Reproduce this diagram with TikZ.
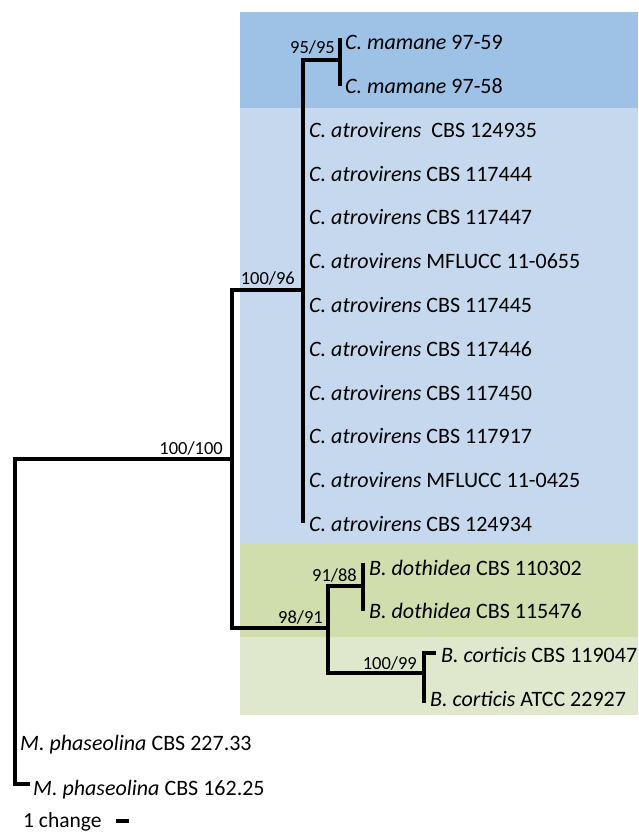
\documentclass[tikz,border=0pt]{standalone}
\usepackage{fontspec}
\setmainfont{Carlito}
\usepackage{tikz}
\usetikzlibrary{positioning}
\usepackage{xcolor}
\definecolor{mamaneblue}{RGB}{157,194,230}
\definecolor{atroblue}{RGB}{197,216,237}
\definecolor{dothgreen}{RGB}{208,222,174}
\definecolor{cortgreen}{RGB}{223,232,204}
\newcommand{\Cma}{\textit{C. mamane}}
\newcommand{\Cat}{\textit{C. atrovirens}}
\newcommand{\Bdo}{\textit{B. dothidea}}
\newcommand{\Bco}{\textit{B. corticis}}
\newcommand{\Mph}{\textit{M. phaseolina}}

\begin{document}
\begin{tikzpicture}[x=1pt, y=-1pt,
    leaf/.style={anchor=west, inner sep=0pt, text height=13.9pt, text depth=0pt,
        font=\fontsize{22}{26}\selectfont},
    boot/.style={anchor=south east, inner sep=1pt, text height=11.7pt, text depth=0pt,
        font=\fontsize{18.5}{22}\selectfont},
    branch/.style={line width=3.3pt, line join=miter, line cap=rect, black}
]
    \useasboundingbox (0,0) rectangle (638,832);

    % clade shading
    \fill[mamaneblue] (240,12) rectangle (638,108);
    \fill[atroblue] (240,108) rectangle (638,544);
    \fill[dothgreen] (240,544) rectangle (638,637);
    \fill[cortgreen] (240,637) rectangle (638,715);

    % taxa
    \node[leaf] (m1) at (345,43.0) {\Cma{} 97-59};
    \node[leaf] (m2) at (345,86.8) {\Cma{} 97-58};
    \node[leaf] (a1) at (309,130.5) {\Cat{}\ \ CBS 124935};
    \node[leaf] (a2) at (309,174.3) {\Cat{} CBS 117444};
    \node[leaf] (a3) at (309,218.0) {\Cat{} CBS 117447};
    \node[leaf] (a4) at (309,261.8) {\Cat{} MFLUCC 11-0655};
    \node[leaf] (a5) at (309,305.6) {\Cat{} CBS 117445};
    \node[leaf] (a6) at (309,349.3) {\Cat{} CBS 117446};
    \node[leaf] (a7) at (309,393.1) {\Cat{} CBS 117450};
    \node[leaf] (a8) at (309,436.8) {\Cat{} CBS 117917};
    \node[leaf] (a9) at (309,480.6) {\Cat{} MFLUCC 11-0425};
    \node[leaf] (a10) at (309,524.4) {\Cat{} CBS 124934};
    \node[leaf] (d1) at (369,568.1) {\Bdo{} CBS 110302};
    \node[leaf] (d2) at (369,611.9) {\Bdo{} CBS 115476};
    \node[leaf] (c1) at (441,655.7) {\Bco{} CBS 119047};
    \node[leaf] (c2) at (430,699.4) {\Bco{} ATCC 22927};
    \node[leaf] (p1) at (20,743.2) {\Mph{} CBS 227.33};
    \node[leaf] (p2) at (33,788.5) {\Mph{} CBS 162.25};

    % tips and internal nodes
    \coordinate (tm1) at (340,40);
    \coordinate (tm2) at (340,84);
    \coordinate (ta10) at (303,521);
    \coordinate (td1) at (363,565);
    \coordinate (td2) at (363,609);
    \coordinate (tc1) at (434,653);
    \coordinate (tc2) at (424,701);
    \coordinate (tp2) at (28,784);
    \coordinate (mam) at (340,60);
    \coordinate (atro) at (303,290);
    \coordinate (ingroup) at (232,459);
    \coordinate (bot) at (328,628);
    \coordinate (doth) at (363,586);
    \coordinate (cort) at (424,673);
    \coordinate (root) at (15,459);

    % branches
    \draw[branch] (tm1) -- (tm2);
    \draw[branch] (mam) -| (atro) |- (ta10);
    \draw[branch] (atro) -| (ingroup) |- (bot);
    \draw[branch] (doth) -| (bot) |- (cort);
    \draw[branch] (td1) -- (td2);
    \draw[branch] (tc1) -| (cort) |- (tc2);
    \draw[branch] (ingroup) -| (root) |- (tp2);

    % support values
    \node[boot] (bmam) at (336,55) {95/95};
    \node[boot] (batro) at (296,286) {100/96};
    \node[boot] (bingroup) at (224,456) {100/100};
    \node[boot] (bdoth) at (358,583) {91/88};
    \node[boot] (bbot) at (324,625) {98/91};
    \node[boot] (bcort) at (418,671) {100/99};

    % scale bar
    \node[anchor=west, inner sep=0pt, text height=13.5pt, text depth=0pt,
        font=\fontsize{21.5}{25}\selectfont] (chg) at (23,821) {1 change};
    \coordinate[right=14pt of chg.east] (sbA);
    \coordinate[right=13pt of sbA] (sbB);
    \draw[branch, line cap=butt] (sbA) -- (sbB);
\end{tikzpicture}
\end{document}
